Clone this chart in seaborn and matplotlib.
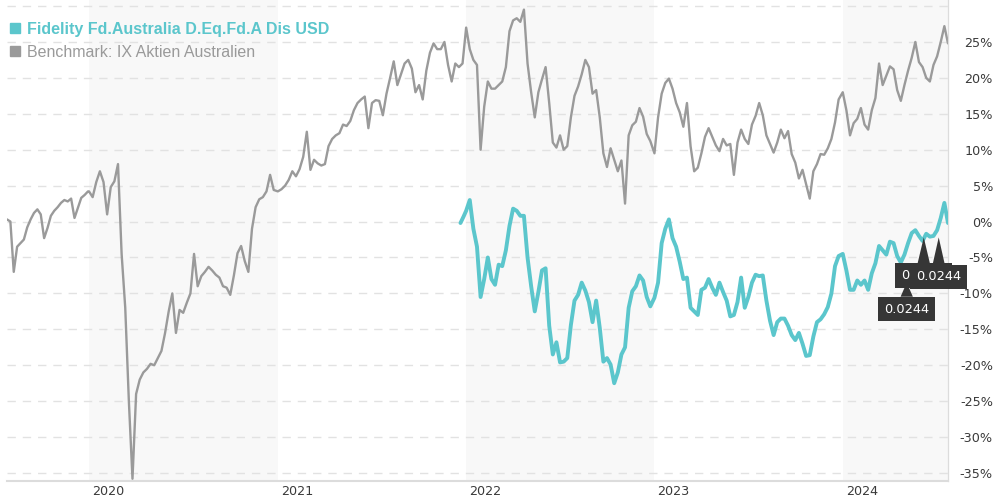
"""Fund vs. benchmark performance chart (percent change since start)."""

import matplotlib
matplotlib.use('Agg')
import matplotlib.dates as mdates
import matplotlib.pyplot as plt
import pandas as pd
import seaborn as sns
from matplotlib.lines import Line2D
from matplotlib.transforms import ScaledTranslation

# --- data (percent) --------------------------------------------------------
bench_2019 = [0.3, 0.0, -7.0, -3.5, -3.0, -2.5, -0.8, 0.3, 1.2, 1.7, 1.0, -2.3, -0.9,
              0.8, 1.5, 2.0, 2.6, 3.0, 2.8, 3.2, 0.5, 1.9, 3.3, 3.7, 4.2]
bench_2020 = [4.2, 3.4, 5.5, 7.0, 5.5, 1.0, 4.8, 5.6, 8.0, -4.5, -12.0, -25.0, -35.8,
              -24.0, -22.0, -21.0, -20.5, -19.8, -20.0, -19.0, -18.0, -15.5, -12.5,
              -10.0, -15.5, -12.3, -12.7, -11.3, -10.0, -4.5, -9.0, -7.6, -7.0, -6.3,
              -6.8, -7.4, -7.8, -9.0, -9.2, -10.2, -7.5, -4.4, -3.4, -5.5, -7.0, -1.0,
              2.0, 3.1, 3.4, 4.2, 6.5, 4.4]
bench_2021 = [4.2, 4.5, 5.0, 5.8, 7.0, 6.3, 7.3, 9.0, 12.5, 7.2, 8.6, 8.1, 7.8, 8.0,
              10.5, 11.5, 12.0, 12.3, 13.5, 13.3, 14.0, 15.5, 16.5, 17.0, 17.4, 13.0,
              16.5, 16.9, 16.8, 14.8, 17.8, 20.0, 22.3, 19.0, 20.5, 22.0, 22.5, 21.3,
              18.0, 19.0, 17.0, 21.0, 23.5, 24.8, 24.0, 24.0, 25.0, 21.8, 19.5, 22.0,
              21.5, 22.0]
bench_2022 = [27.0, 24.0, 22.5, 21.8, 10.0, 16.0, 19.5, 18.5, 18.5, 19.0, 19.5, 21.5,
              26.5, 28.0, 28.3, 27.8, 29.5, 22.0, 18.0, 14.5, 18.0, 19.8, 21.5, 16.5,
              11.0, 10.3, 12.0, 10.0, 10.5, 14.5, 17.5, 18.8, 20.5, 22.5, 21.5, 17.8,
              18.3, 14.5, 9.5, 7.6, 10.2, 8.6, 7.0, 8.5, 2.5, 12.0, 13.4, 13.9, 15.8,
              14.6, 12.2, 11.2]
bench_2023 = [9.5, 14.5, 17.8, 19.3, 19.9, 18.5, 16.5, 15.2, 13.2, 16.5, 10.5, 7.0,
              7.5, 9.5, 11.8, 13.0, 11.8, 10.6, 9.8, 11.5, 10.6, 10.8, 6.5, 11.0, 12.8,
              11.5, 10.8, 13.5, 14.7, 16.5, 14.8, 12.0, 10.8, 9.6, 11.0, 12.8, 11.6,
              12.6, 9.4, 8.2, 6.0, 7.2, 5.2, 3.2, 7.0, 8.0, 9.4, 9.3, 10.2, 11.5, 13.8,
              17.0]
bench_2024 = [18.0, 15.5, 12.0, 13.7, 14.3, 15.8, 13.5, 12.8, 15.5, 17.2, 22.0, 19.0,
              20.3, 21.6, 21.2, 18.3, 16.8, 19.0, 21.0, 22.8, 25.0, 22.2, 21.5, 20.0,
              19.5, 21.8, 23.0, 25.0, 27.2, 24.8]

fund_2021 = [-0.2, 0.7]
fund_2022 = [1.5, 3.0, -1.0, -3.5, -10.5, -8.0, -5.0, -8.0, -8.8, -6.0, -6.2, -4.0,
             -0.6, 1.8, 1.5, 0.8, 0.8, -5.0, -9.0, -12.5, -9.8, -6.8, -6.5, -14.5,
             -18.5, -16.8, -19.6, -19.5, -19.0, -14.4, -11.0, -10.2, -8.5, -9.6, -11.2,
             -14.0, -11.0, -14.8, -19.5, -19.0, -19.9, -22.5, -21.0, -18.5, -17.5,
             -12.0, -9.7, -9.0, -7.5, -8.2, -10.5, -11.8]
fund_2023 = [-10.6, -8.5, -3.0, -1.0, 0.3, -2.3, -3.5, -5.6, -8.0, -7.8, -12.0, -12.5,
             -13.0, -9.5, -9.2, -8.0, -9.2, -10.2, -8.5, -9.8, -11.0, -13.2, -13.0,
             -11.2, -7.8, -12.0, -10.5, -8.5, -7.4, -7.6, -7.5, -11.0, -13.8, -15.8,
             -14.0, -13.5, -13.5, -14.5, -15.8, -16.5, -15.5, -17.0, -18.7, -18.6,
             -16.0, -14.0, -13.6, -12.9, -11.9, -10.0, -6.2, -4.8]
fund_2024 = [-4.5, -6.8, -9.5, -9.5, -8.2, -8.8, -8.2, -9.5, -7.2, -5.8, -3.4, -4.0,
             -4.6, -2.8, -3.0, -4.8, -5.7, -4.6, -3.0, -1.6, -1.2, -2.0, -2.7, -1.7,
             -2.1, -2.0, -1.2, 0.5, 2.6, -0.2]

bench_segments = [
    (bench_2019, '2019-07-26', '2019-12-30'),
    (bench_2020, '2020-01-01', '2020-12-24'),
    (bench_2021, '2021-01-01', '2021-12-25'),
    (bench_2022, '2022-01-01', '2022-12-24'),
    (bench_2023, '2023-01-01', '2023-12-24'),
    (bench_2024, '2024-01-01', '2024-07-23'),
]
fund_segments = [
    (fund_2021, '2021-12-21', '2021-12-27'),
    (fund_2022, '2022-01-01', '2022-12-24'),
    (fund_2023, '2023-01-01', '2023-12-24'),
    (fund_2024, '2024-01-01', '2024-07-23'),
]

year_ticks = ['2020', '2021', '2022', '2023', '2024']
shaded_years = [('2020-01-01', '2021-01-01'), ('2022-01-01', '2023-01-01'),
                ('2024-01-01', '2025-01-01')]
y_ticks = list(range(-35, 31, 5))

fund_name = 'Fidelity Fd.Australia D.Eq.Fd.A Dis USD'
bench_name = 'Benchmark: IX Aktien Australien'

# tooltip boxes left over on the chart: (date, value, label, offset in points)
tips = [
    ('2024-05-04', -8.5, '0.0244', -19.0),
    ('2024-06-06', -2.2, '0.0244', -27.5),
    ('2024-07-05', -2.2, '0.0244', -28.5),
]

TEAL = '#5bc6cc'
GRAY = '#9a9a9a'


def build_series(segments):
    frames = [
        pd.DataFrame({'date': pd.date_range(start, end, periods=len(vals)), 'value': vals})
        for vals, start, end in segments
    ]
    return pd.concat(frames, ignore_index=True)


bench = build_series(bench_segments)
fund = build_series(fund_segments)

sns.set_theme(style='white')
plt.rcParams['font.family'] = ['DejaVu Sans']

fig = plt.figure(figsize=(9.95, 5.0), dpi=100)
ax = fig.add_axes([7 / 995, 19 / 500, 941 / 995, 481 / 500])

for start, end in shaded_years:
    ax.axvspan(pd.Timestamp(start), pd.Timestamp(end), color='#f8f8f8', lw=0, zorder=0)

sns.lineplot(data=bench, x='date', y='value', ax=ax, color=GRAY, linewidth=1.7,
             estimator=None, zorder=2)
sns.lineplot(data=fund, x='date', y='value', ax=ax, color=TEAL, linewidth=2.8,
             estimator=None, zorder=3)

ax.set_xlim(bench['date'].iloc[0], bench['date'].iloc[-1])
ax.set_ylim(-36.11, 30.84)
ax.set_xlabel('')
ax.set_ylabel('')

# y axis on the right
ax.yaxis.tick_right()
ax.set_yticks(y_ticks)
ax.set_yticklabels([f'{v}%' if v < 30 else '' for v in y_ticks])
ax.tick_params(axis='y', length=0, pad=32.4, labelsize=9.2, labelcolor='#3a3a3a')
for lab in ax.get_yticklabels():
    lab.set_horizontalalignment('right')
ax.grid(axis='y', linestyle=(0, (6, 5)), color='#e2e2e2', linewidth=1.0)
ax.grid(axis='x', visible=False)

# x axis: years, labels left aligned next to the year start
ax.set_xticks([pd.Timestamp(f'{y}-01-01') for y in year_ticks])
ax.xaxis.set_major_formatter(mdates.DateFormatter('%Y'))
ax.tick_params(axis='x', length=0, pad=3, labelsize=9.2, labelcolor='#3a3a3a')
shift = ScaledTranslation(3 / 100, 0, fig.dpi_scale_trans)
for lab in ax.get_xticklabels():
    lab.set_horizontalalignment('left')
    lab.set_transform(lab.get_transform() + shift)

for side in ['left', 'top']:
    ax.spines[side].set_visible(False)
ax.spines['right'].set_color('#dcdcdc')
ax.spines['right'].set_linewidth(0.9)
ax.spines['bottom'].set_color('#dcdcdc')
ax.spines['bottom'].set_linewidth(1.5)

# legend
handles = [
    Line2D([], [], marker='s', linestyle='', color=TEAL, markersize=7.5),
    Line2D([], [], marker='s', linestyle='', color=GRAY, markersize=7.5),
]
leg = ax.legend(handles, [fund_name, bench_name], loc='upper left',
                bbox_to_anchor=(-0.0088, 0.975), frameon=False, handlelength=0.8,
                handletextpad=0.38, labelspacing=0.5, borderaxespad=0.2,
                prop={'family': 'Liberation Sans', 'size': 11.5})
leg.get_texts()[0].set_color(TEAL)
leg.get_texts()[0].set_fontweight('bold')
leg.get_texts()[1].set_color(GRAY)

# tooltips (the reference shows two of them stacked on top of each other)
for date, value, label, off in tips:
    ax.annotate(label, xy=(pd.Timestamp(date), value), xytext=(0, off),
                textcoords='offset points', ha='center', va='center',
                fontsize=9.3, color='white', annotation_clip=False, zorder=5,
                bbox=dict(boxstyle='square,pad=0.45', fc='#363636', ec='none'),
                arrowprops=dict(arrowstyle='wedge,tail_width=0.95', fc='#363636',
                                ec='none', shrinkA=0, shrinkB=0))

fig.savefig('out.png', dpi=100)
